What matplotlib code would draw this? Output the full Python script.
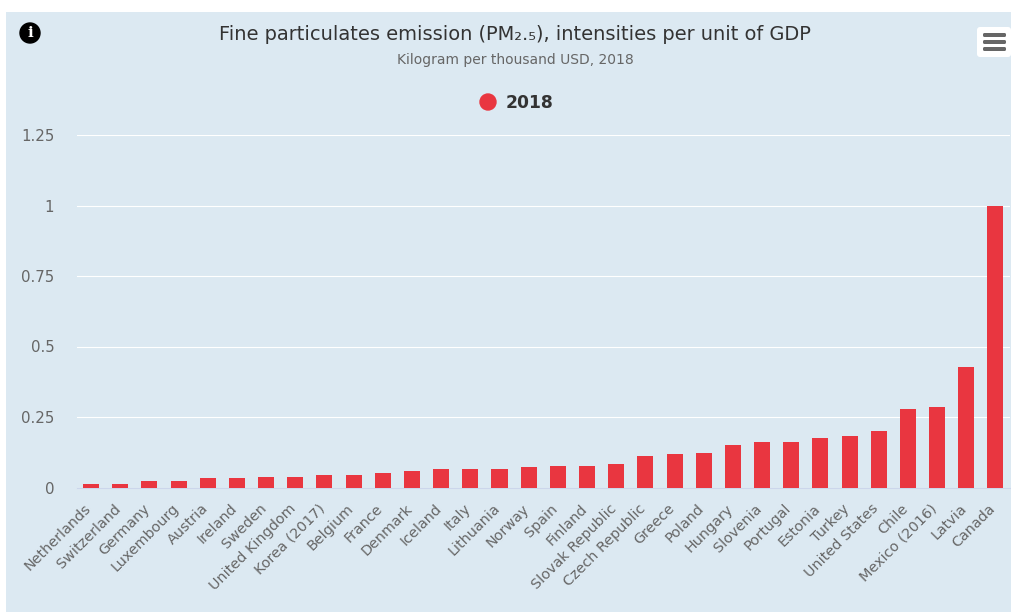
import matplotlib
matplotlib.use("Agg")
import matplotlib.pyplot as plt
from matplotlib.patches import Circle, FancyBboxPatch, Rectangle

countries = [
    "Netherlands", "Switzerland", "Germany", "Luxembourg", "Austria", "Ireland",
    "Sweden", "United Kingdom", "Korea (2017)", "Belgium", "France", "Denmark",
    "Iceland", "Italy", "Lithuania", "Norway", "Spain", "Finland",
    "Slovak Republic", "Czech Republic", "Greece", "Poland", "Hungary", "Slovenia",
    "Portugal", "Estonia", "Turkey", "United States", "Chile", "Mexico (2016)",
    "Latvia", "Canada",
]
values = [
    0.012, 0.012, 0.023, 0.023, 0.034, 0.034, 0.037, 0.037, 0.045, 0.045, 0.050,
    0.057, 0.064, 0.064, 0.064, 0.071, 0.075, 0.075, 0.085, 0.110, 0.120, 0.124,
    0.152, 0.160, 0.163, 0.174, 0.184, 0.202, 0.277, 0.287, 0.426, 1.0,
]
y_ticks = [0, 0.25, 0.5, 0.75, 1, 1.25]
y_labels = ["0", "0.25", "0.5", "0.75", "1", "1.25"]

W, H = 1011, 612
BG = "#dce9f2"
RED = "#e93640"

fig = plt.figure(figsize=(W / 100, H / 100), dpi=100, facecolor="white")
# panel behind everything, in pixels
fig.patches.append(Rectangle((6 / W, 0), 1 - 6 / W, 1 - 12 / H, transform=fig.transFigure,
                             facecolor=BG, edgecolor="none", zorder=-5))

ax = fig.add_axes([76.5 / W, (H - 487.5) / H, 933.5 / W, 352.5 / H])
ax.patch.set_alpha(0)
ax.bar(range(len(values)), values, width=0.55, color=RED, zorder=3)
ax.set_xlim(-0.5, len(values) - 0.5)
ax.set_ylim(0, 1.25)

ax.set_yticks(y_ticks, y_labels, fontsize=10.8, color="#666666")
# tick marks are hidden, so nudge the ticks left to place the slanted labels
ax.set_xticks([i - 0.24 for i in range(len(countries))])
ax.set_xticklabels(countries, rotation=45, ha="right", rotation_mode="anchor",
                   fontsize=10.4, color="#666666")
ax.tick_params(axis="both", length=0)
ax.tick_params(axis="y", pad=16)
ax.tick_params(axis="x", pad=10)
ax.grid(axis="y", color="white", linewidth=0.8, zorder=1)
ax.set_axisbelow(True)
for name, sp in ax.spines.items():
    sp.set_visible(name == "bottom")
ax.spines["bottom"].set_color("#ccd6eb")
ax.spines["bottom"].set_linewidth(0.8)


def fx(x):
    return x / W


def fy(y):
    return 1 - y / H


fig.text(fx(515), fy(34), "Fine particulates emission (PM₂.₅), intensities per unit of GDP",
         ha="center", va="center", fontsize=13.95, color="#333333")
fig.text(fx(515), fy(60), "Kilogram per thousand USD, 2018",
         ha="center", va="center", fontsize=10, color="#666666")
fig.text(fx(506), fy(103), "2018", ha="left", va="center", fontsize=12.3,
         fontweight="bold", color="#333333")

# overlay in pixel coords for the round marks and the menu button
ov = fig.add_axes([0, 0, 1, 1], facecolor="none")
ov.set_xlim(0, W)
ov.set_ylim(H, 0)
ov.axis("off")
ov.add_patch(Circle((488, 102), 8, color=RED))
ov.add_patch(Circle((30, 33), 10, color="black"))
ov.text(30, 33, "i", ha="center", va="center", fontsize=11, fontweight="bold",
        family="DejaVu Serif", color="white")
ov.add_patch(FancyBboxPatch((977, 27), 34, 30, boxstyle="round,pad=0,rounding_size=3",
                            facecolor="white", edgecolor="none"))
for y in (33, 40, 47):
    ov.add_patch(FancyBboxPatch((983, y), 23, 4, boxstyle="round,pad=0,rounding_size=1.5",
                                facecolor="#666666", edgecolor="none"))

fig.savefig("out.png", dpi=100)
